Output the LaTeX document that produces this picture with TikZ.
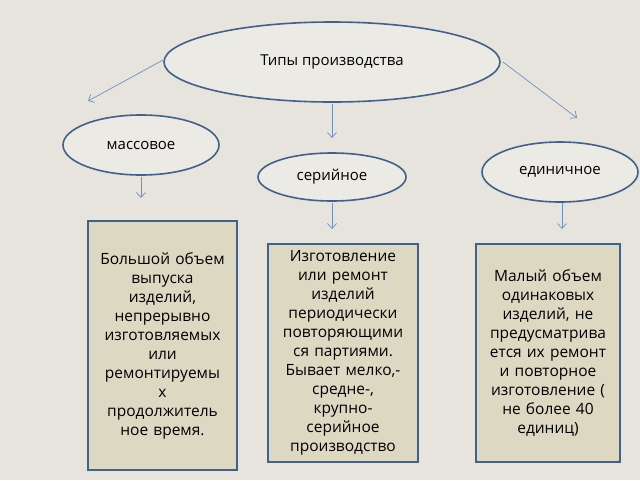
\documentclass[tikz,border=0pt]{standalone}
\usepackage{fontspec}
\setmainfont{Open Sans}
\usetikzlibrary{shapes.geometric,arrows.meta}
\definecolor{bgcol}{HTML}{E6E4DC}
\definecolor{ovfill}{HTML}{EBEAE4}
\definecolor{boxfill}{HTML}{DDD8C2}
\definecolor{edge}{HTML}{41618C}
\definecolor{arrcol}{HTML}{6F8FBF}
\tikzset{
  typ/.style={ellipse, draw=edge, line width=1.6pt, fill=ovfill, inner sep=0pt, font=\fontsize{15}{17}\selectfont},
  descr/.style={draw=edge, line width=1.6pt, fill=boxfill, align=center, inner sep=2pt, font=\fontsize{15.5}{19}\selectfont},
  link/.style={draw=arrcol, line width=0.7pt, -{Straight Barb[length=5pt,width=9pt]}}
}
\begin{document}
\begin{tikzpicture}[x=1pt,y=-1pt]
\fill[bgcol] (0,0) rectangle (640,480);
\useasboundingbox (0,0) rectangle (640,480);

\node[typ, minimum width=336, minimum height=80] (types) at (332,62) {Типы производства};
\node[typ, minimum width=156, minimum height=60] (mass) at (141,145) {массовое};
\node[typ, minimum width=148, minimum height=48] (serial) at (332,177) {серийное};
\node[typ, minimum width=156, minimum height=60] (single) at (560,172) {единичное};

\node[descr, minimum width=149, minimum height=249, text width=145] (massbox) at (162.5,345.5)
  {Большой объем\\выпуска\\изделий,\\непрерывно\\изготовляемых\\или\\ремонтируемы\\х\\продолжитель\\ное время.};
\node[descr, minimum width=150, minimum height=218, text width=146] (serialbox) at (343,353)
  {Изготовление\\или ремонт\\изделий\\периодически\\повторяющими\\ся партиями.\\Бывает мелко,-\\средне-,\\крупно-\\серийное\\производство};
\node[descr, minimum width=144, minimum height=218, text width=140] (singlebox) at (548,353)
  {Малый объем\\одинаковых\\изделий, не\\предусматрива\\ется их ремонт\\и повторное\\изготовление (\\не более 40\\единиц)};

% arrows with gaps
\coordinate (a1s) at (163,60);  \coordinate (a1e) at (88,101);
\coordinate (a2s) at (332,104); \coordinate (a2e) at (332,138);
\coordinate (a3s) at (503,62);  \coordinate (a3e) at (577,118);
\coordinate (b1s) at (141,177); \coordinate (b1e) at (141,198);
\coordinate (b2s) at (332,203); \coordinate (b2e) at (332,229);
\coordinate (b3s) at (562,203); \coordinate (b3e) at (562,229);
\foreach \s/\e in {a1s/a1e,a2s/a2e,a3s/a3e,b1s/b1e,b2s/b2e,b3s/b3e}
  \draw[link] (\s) -- (\e);
\end{tikzpicture}
\end{document}
